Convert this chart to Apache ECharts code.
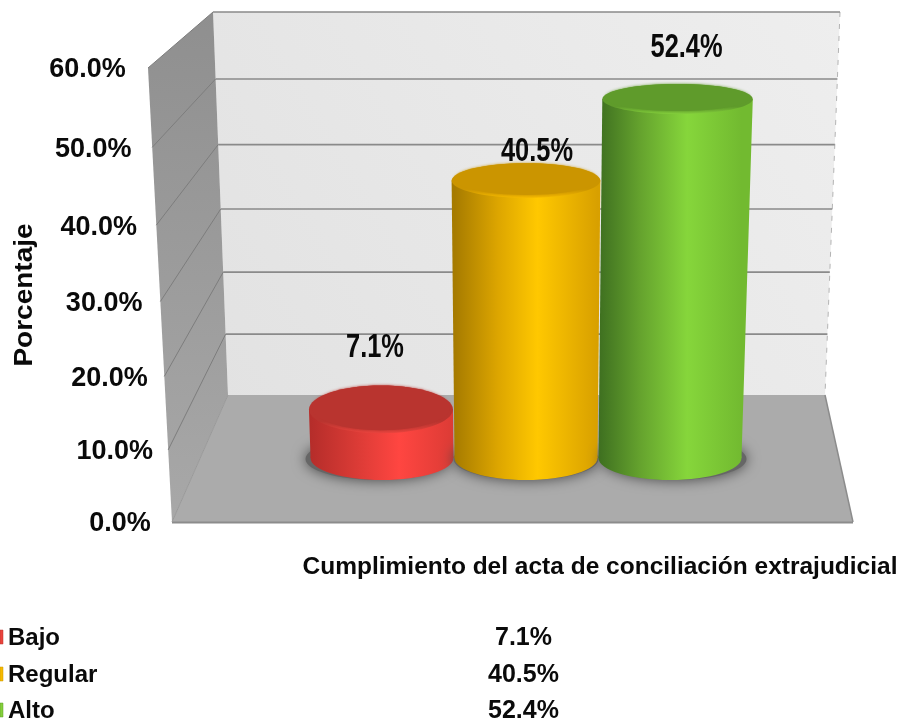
<!DOCTYPE html>
<html>
<head>
<meta charset="utf-8">
<style>html,body{margin:0;padding:0;background:#fff}#chart{width:903px;height:722px}</style>
<script src="https://cdn.jsdelivr.net/npm/echarts@6/dist/echarts.min.js"></script>
</head>
<body>
<div id="chart"></div>
<script>
const categories = ['Bajo', 'Regular', 'Alto'];
const values = [7.1, 40.5, 52.4];
const yTicks = [0, 10, 20, 30, 40, 50, 60];
const xTitle = 'Cumplimiento del acta de conciliación extrajudicial';
const yTitle = 'Porcentaje';

const FONT = '"Liberation Sans", Arial, sans-serif';
const maxY = 60;
// esquinas de la caja 3D
const backL = [[228, 395], [213, 12]], backR = [[825, 395], [840, 12]];
const frontL = [[172, 522], [148, 68]], frontR = [853, 522];
const centerX = 526;

// perspectiva vertical de las paredes
function wallT(v) {
    const t = v / maxY;
    return t / (t + 1.059 * (1 - t));
}
function onEdge(edge, v) {
    const s = wallT(v);
    return [edge[0][0] + (edge[1][0] - edge[0][0]) * s, edge[0][1] + (edge[1][1] - edge[0][1]) * s];
}
function hGrad(stops, x0, x1) {
    return new echarts.graphic.LinearGradient(x0, 0, x1, 0, stops.map(s => ({offset: s[0], color: s[1]})), true);
}
function txt(text, x, y, size, scaleX, extra) {
    return Object.assign({
        type: 'text', x, y, scaleX,
        style: {text, font: 'bold ' + size + 'px ' + FONT, fill: '#0a0a0a', align: 'center', verticalAlign: 'middle'}
    }, extra || {});
}

const palette = [
    {side: [[0, '#b52d2a'], [0.3, '#d83a35'], [0.62, '#ff4641'], [1, '#dc3b35']], top: '#b9342f', rim: '#ea433d', label: [-6, -61]},
    {side: [[0, '#a67b00'], [0.3, '#dca500'], [0.58, '#ffc800'], [1, '#d8a000']], top: '#cb9500', rim: '#f6ba00', label: [11, -29]},
    {side: [[0, '#3e6f20'], [0.3, '#66a42e'], [0.62, '#86d63b'], [1, '#72ba30']], top: '#5f9b2b', rim: '#84d03b', label: [9, -51]}
];

function renderFrame() {
    const b0 = backL[0], b1 = backL[1], r0 = backR[0], r1 = backR[1], f0 = frontL[0], f1 = frontL[1];
    return {
        type: 'group',
        children: [
            {type: 'polygon', shape: {points: [b1, r1, r0, b0]}, style: {
                fill: new echarts.graphic.LinearGradient(1, 0, 0, 1, [{offset: 0, color: '#eeeeee'}, {offset: 1, color: '#e2e2e2'}])}},
            {type: 'polygon', shape: {points: [f1, b1, b0, f0]}, style: {
                fill: new echarts.graphic.LinearGradient(0, 0, 0, 1, [{offset: 0, color: '#8f8f8f'}, {offset: 1, color: '#a8a8a8'}])}},
            {type: 'polygon', shape: {points: [f0, b0, r0, frontR]}, style: {fill: '#ababab'}},
            {type: 'line', shape: {x1: r1[0], y1: r1[1], x2: r0[0], y2: r0[1]}, style: {stroke: '#b4b4b4', lineWidth: 1, lineDash: [5, 7]}},
            {type: 'line', shape: {x1: f0[0], y1: f0[1] + 0.5, x2: frontR[0], y2: frontR[1] + 0.5}, style: {stroke: '#8c8c8c', lineWidth: 2}},
            {type: 'line', shape: {x1: r0[0], y1: r0[1], x2: frontR[0], y2: frontR[1]}, style: {stroke: '#8c8c8c', lineWidth: 1.5}},
            {type: 'line', shape: {x1: b0[0], y1: b0[1], x2: f0[0], y2: f0[1]}, style: {stroke: '#999999', lineWidth: 1}}
        ]
    };
}

function renderTick(params, api) {
    const v = api.value(0);
    const back = onEdge(backL, v), backEnd = onEdge(backR, v), front = onEdge(frontL, v);
    const kids = [
        txt(v.toFixed(1) + '%', front[0] - 52 - v * 0.14, front[1] + 2, 27, 1)
    ];
    if (v > 0) {
        kids.unshift(
            {type: 'line', shape: {x1: back[0], y1: back[1], x2: backEnd[0], y2: backEnd[1]}, style: {stroke: '#8a8a8a', lineWidth: 1.6}},
            {type: 'line', shape: {x1: front[0], y1: front[1], x2: back[0], y2: back[1]}, style: {stroke: '#7d7d7d', lineWidth: 1}}
        );
    }
    return {type: 'group', children: kids};
}

function renderBar(params, api) {
    const i = api.value(0), v = api.value(1);
    const p = palette[i];
    const base = api.coord([i, 0]), top = api.coord([i, v]);
    const rx = api.size([1, 0])[0] * 0.4965;
    const ryBase = 22;
    const ryTop = 15 + (top[1] - 98) * 0.0288;
    const grow = 1 + 0.001 * v; // la columna se abre hacia arriba
    const topX = centerX + (base[0] - centerX) * grow;
    const topRx = rx * grow;
    const fill = hGrad(p.side, base[0] - rx, base[0] + rx);
    return {
        type: 'group',
        children: [
            {type: 'ellipse', shape: {cx: base[0] + (i - 1) * 4, cy: base[1] + 1, rx: rx + 1, ry: ryBase - 1},
                style: {fill: '#666666', shadowBlur: 14, shadowColor: '#444444'}},
            {type: 'ellipse', shape: {cx: base[0], cy: base[1], rx, ry: ryBase}, style: {fill}},
            {type: 'polygon', shape: {points: [[topX - topRx, top[1]], [topX + topRx, top[1]], [base[0] + rx, base[1]], [base[0] - rx, base[1]]]}, style: {fill}},
            {type: 'ellipse', shape: {cx: topX, cy: top[1], rx: topRx, ry: ryTop}, style: {
                fill: new echarts.graphic.LinearGradient(0, 0, 0, 1, [{offset: 0, color: p.top}, {offset: 0.75, color: p.top}, {offset: 1, color: p.rim}])}},
            {type: 'ellipse', shape: {cx: topX, cy: top[1] - 1.5, rx: topRx - 3, ry: ryTop - 1.5}, style: {fill: p.top, shadowBlur: 3, shadowColor: p.top}},
            txt(v.toFixed(1) + '%', topX + p.label[0], top[1] + p.label[1], 33, 0.77)
        ]
    };
}

function renderRow(params, api) {
    const i = api.value(0);
    const y = [638, 675, 711][i];
    return {
        type: 'group',
        children: [
            {type: 'rect', shape: {x: 0, y: y - 8, width: 3, height: 14}, style: {fill: palette[i].rim, stroke: palette[i].top, lineWidth: 0.5}},
            txt(categories[i], 8, y, 24, 1, {style: {text: categories[i], font: 'bold 24px ' + FONT, fill: '#0a0a0a', align: 'left', verticalAlign: 'middle'}}),
            txt(values[i].toFixed(1) + '%', 523.5, y, 25, 1)
        ]
    };
}

const chart = echarts.init(document.getElementById('chart'), null, {renderer: 'canvas'});
chart.setOption({
    animation: false,
    backgroundColor: '#ffffff',
    grid: {left: 310, width: 432, top: 47, height: 411},
    xAxis: {type: 'category', data: categories, show: false},
    yAxis: {type: 'value', min: 0, max: maxY, show: false},
    series: [
        {type: 'custom', coordinateSystem: 'none', data: [0], renderItem: renderFrame, silent: true, z: 1},
        {type: 'custom', coordinateSystem: 'none', data: yTicks, renderItem: renderTick, silent: true, z: 2},
        {type: 'custom', coordinateSystem: 'cartesian2d', data: values.map((v, i) => [i, v]), encode: {x: 0, y: 1}, renderItem: renderBar, silent: true, z: 3},
        {type: 'custom', coordinateSystem: 'none', data: categories.map((c, i) => i), renderItem: renderRow, silent: true, z: 3}
    ],
    graphic: [
        txt(xTitle, 600, 567, 24.5, 1),
        txt(yTitle, 25, 295, 25, 1.12, {rotation: Math.PI / 2})
    ]
});
</script>
</body>
</html>
